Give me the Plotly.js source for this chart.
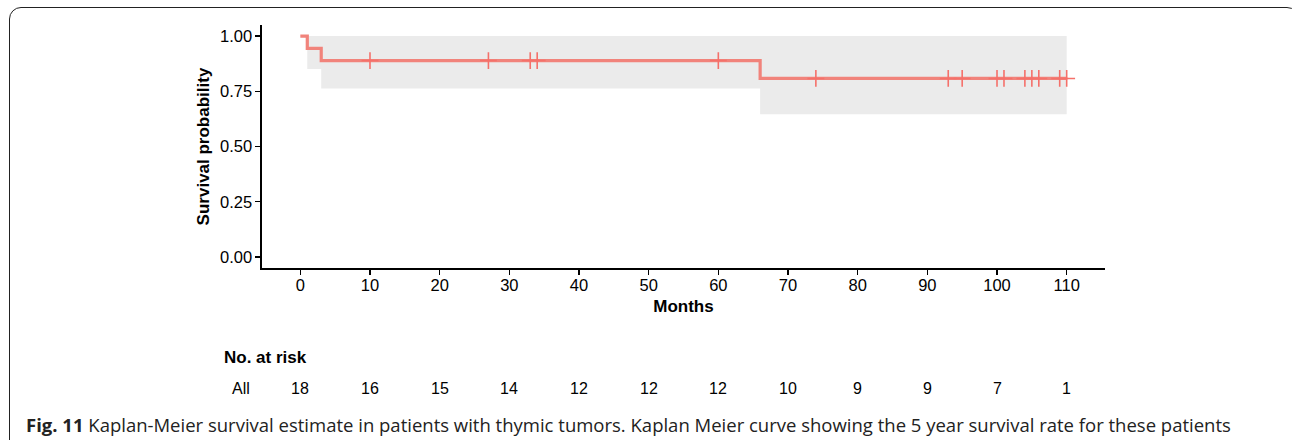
<!DOCTYPE html>
<html>
<head>
<meta charset="utf-8">
<script src="https://cdn.plot.ly/plotly-3.0.1.min.js"></script>
<style>
  html, body { margin: 0; padding: 0; background: #fff; overflow: hidden; }
  #wrap { position: relative; width: 1292px; height: 440px; }
  #frame { position: absolute; left: 9px; top: 7px; width: 1290px; height: 450px;
           border: 1.6px solid #222; border-radius: 12px; box-sizing: border-box; }
  #chart { position: absolute; left: 0; top: 0; width: 1292px; height: 440px; }
</style>
</head>
<body>
<div id="wrap">
  <div id="frame"></div>
  <div id="chart"></div>
</div>
<script>
// Kaplan-Meier step curve
const curveTimes = [0, 1, 3, 66, 110];
const curveSurv  = [1.0, 0.944, 0.889, 0.808, 0.808];

// Confidence band
const bandTimes = [1, 3, 66, 110];
const bandLower = [0.851, 0.763, 0.646, 0.646];
const bandUpper = [1.0, 1.0, 1.0, 1.0];

// Censored observations (months)
const censorTimes = [10, 27, 33, 34, 60, 74, 93, 95, 100, 101, 104, 105, 106, 109, 110];

// Risk table
const riskTimes = [0, 10, 20, 30, 40, 50, 60, 70, 80, 90, 100, 110];
const riskCounts = [18, 16, 15, 14, 12, 12, 12, 10, 9, 9, 7, 1];

const yTicks = [0, 0.25, 0.5, 0.75, 1.0];
const yTickText = ['0.00', '0.25', '0.50', '0.75', '1.00'];

function survAt(t) {
  let s = curveSurv[0];
  for (let i = 0; i < curveTimes.length; i++) if (curveTimes[i] <= t) s = curveSurv[i];
  return s;
}

const lineColor = '#F1837B';
const textFont = 'Liberation Sans, Arial, sans-serif';
const fs = 17;

const traces = [
  { x: bandTimes, y: bandLower, mode: 'lines', line: { shape: 'hv', width: 0, color: 'rgba(0,0,0,0)' },
    hoverinfo: 'skip', showlegend: false },
  { x: bandTimes, y: bandUpper, mode: 'lines', line: { shape: 'hv', width: 0, color: 'rgba(0,0,0,0)' },
    fill: 'tonexty', fillcolor: '#EBEBEB', hoverinfo: 'skip', showlegend: false },
  { x: curveTimes, y: curveSurv, mode: 'lines', line: { shape: 'hv', width: 3.2, color: lineColor },
    showlegend: false },
  { x: censorTimes, y: censorTimes.map(survAt), mode: 'markers',
    marker: { symbol: 'cross-thin', size: 12, line: { width: 1.6, color: '#F5706A' } },
    showlegend: false }
];

const plotL = 262, plotR = 1105, plotT = 25, plotB = 268;
const W = 1292, H = 440;
const px = (p) => (p - plotL) / (plotR - plotL);
const py = (p) => (plotB - p) / (plotB - plotT);

const annotations = [
  { text: '<b>No. at risk</b>', xref: 'paper', yref: 'paper', x: px(222), y: py(357),
    xanchor: 'left', yanchor: 'middle', showarrow: false, font: { family: textFont, size: fs, color: '#000' } },
  { text: 'All', xref: 'paper', yref: 'paper', x: px(241), y: py(388),
    xanchor: 'center', yanchor: 'middle', showarrow: false, font: { family: textFont, size: 16, color: '#000' } },
  { text: '<b>Fig. 11</b> Kaplan-Meier survival estimate in patients with thymic tumors. Kaplan Meier curve showing the 5 year survival rate for these patients',
    xref: 'paper', yref: 'paper', x: px(24), y: py(424), xanchor: 'left', yanchor: 'middle', showarrow: false,
    font: { family: 'Open Sans, sans-serif', size: 18.5, color: '#222' } }
];
riskTimes.forEach((t, i) => {
  annotations.push({ text: String(riskCounts[i]), xref: 'x', yref: 'paper', x: t, y: py(388),
    xanchor: 'center', yanchor: 'middle', showarrow: false, font: { family: textFont, size: 16, color: '#000' } });
});

const layout = {
  width: W, height: H,
  margin: { l: plotL, r: W - plotR, t: plotT, b: H - plotB, pad: 0 },
  paper_bgcolor: 'rgba(0,0,0,0)', plot_bgcolor: 'rgba(0,0,0,0)',
  font: { family: textFont, color: '#000' },
  xaxis: {
    range: [-5.5, 115.5], tickvals: riskTimes, ticks: 'outside', ticklen: 5, tickwidth: 1.2, tickcolor: '#000',
    showgrid: false, zeroline: false, showline: true, linecolor: '#000', linewidth: 1.6,
    tickfont: { family: textFont, size: 16.5, color: '#000' }, ticklabelstandoff: -3,
    title: { text: '<b>Months</b>', font: { family: textFont, size: fs, color: '#000' }, standoff: 6 }
  },
  yaxis: {
    range: [-0.05, 1.05], tickvals: yTicks, ticktext: yTickText, ticks: 'outside', ticklen: 5, tickwidth: 1.2,
    tickcolor: '#000', showgrid: false, zeroline: false, showline: true, linecolor: '#000', linewidth: 1.6,
    tickfont: { family: textFont, size: 16.5, color: '#000' },
    title: { text: '<b>Survival probability</b>', font: { family: textFont, size: fs, color: '#000' }, standoff: 6 }
  },
  annotations: annotations,
  showlegend: false
};

Plotly.newPlot('chart', traces, layout, { displayModeBar: false, staticPlot: true });
</script>
</body>
</html>
